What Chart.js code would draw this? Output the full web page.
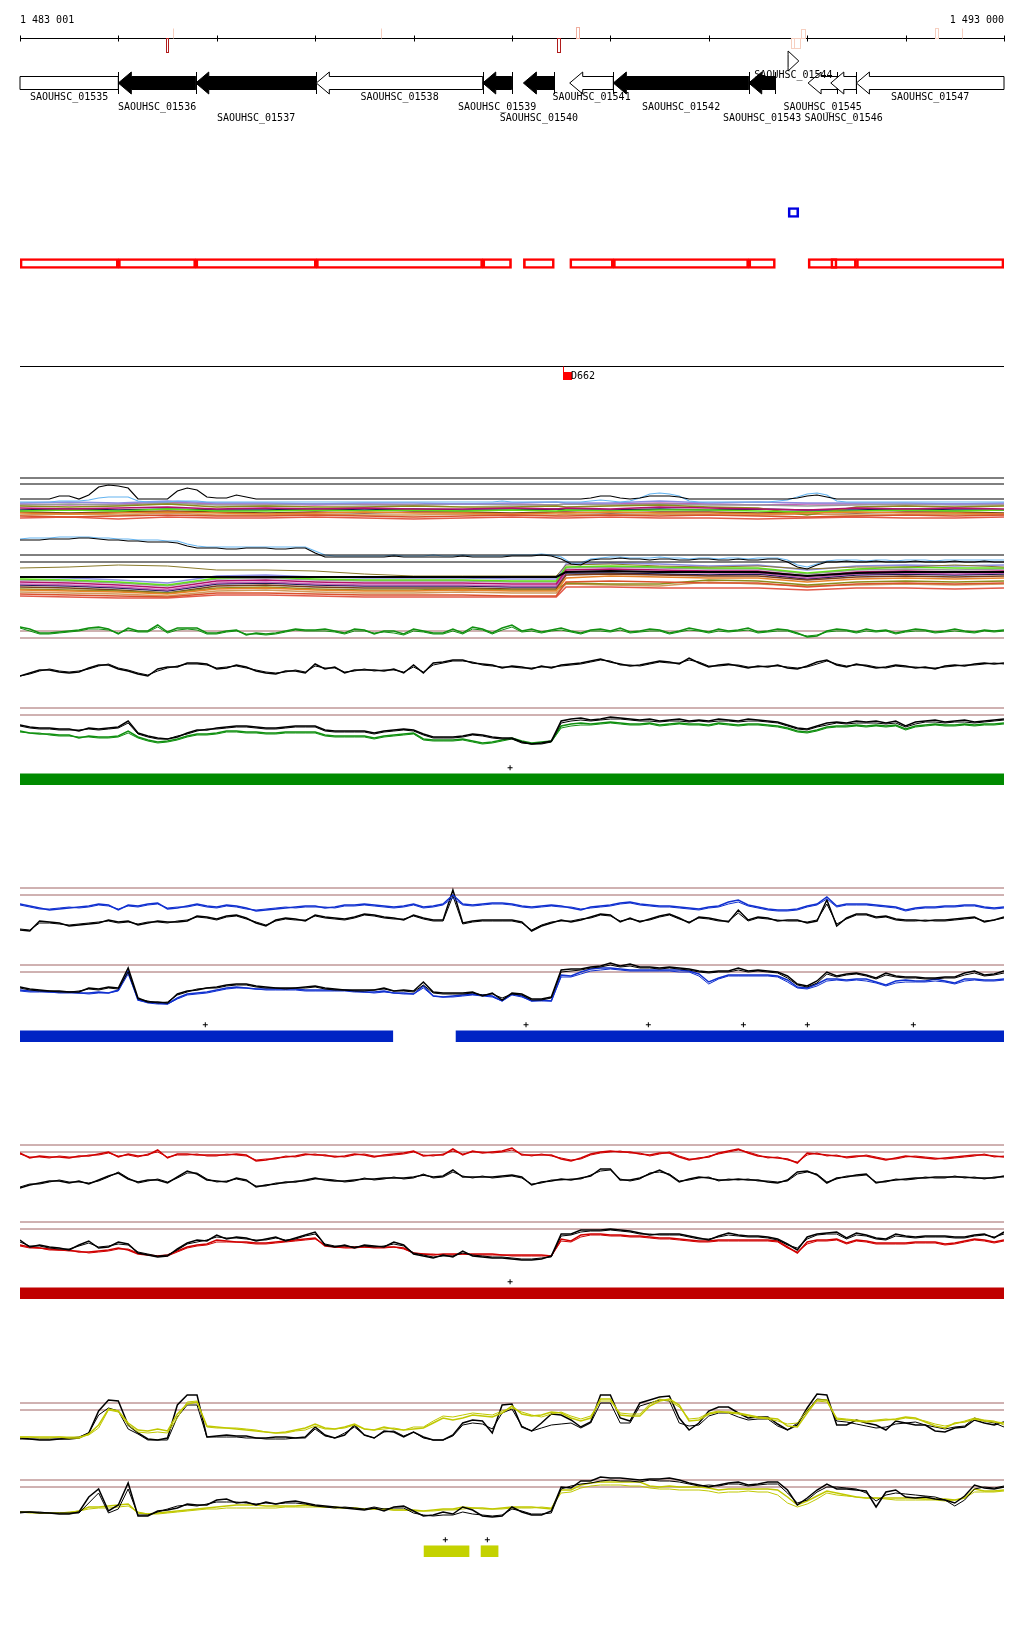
<!DOCTYPE html>
<html lang="en">
<head>
  <meta charset="UTF-8" />
  <title>SAOUHSC_01535 - SAOUHSC_01547 region</title>
  <script src="https://cdn.jsdelivr.net/npm/chart.js@4.4.0/dist/chart.umd.min.js"></script>
  <style>
    body {
      margin: 0;
      background: #fff;
      width: 1024px;
      height: 1640px;
      position: relative;
      overflow: hidden;
    }
    .track {
      position: absolute;
      left: 0;
      width: 1024px;
    }
  </style>
</head>
<body>
  <script>
    // view window (bp)
    const viewStart = 1483001, viewEnd = 1493000;
    const rulerTicks = [1483001, 1484000, 1485000, 1486000, 1487000, 1488000, 1489000, 1490000, 1491000, 1492000, 1493000];
    const rulerLabels = ['1 483 001', '1 493 000'];

    // genes
    const geneNames = ['SAOUHSC_01535','SAOUHSC_01536','SAOUHSC_01537','SAOUHSC_01538','SAOUHSC_01539','SAOUHSC_01540','SAOUHSC_01541','SAOUHSC_01542','SAOUHSC_01543','SAOUHSC_01544','SAOUHSC_01545','SAOUHSC_01546','SAOUHSC_01547'];
    const geneStart = [1483001,1484000,1484787,1486012,1487703,1488116,1488587,1489030,1490406,1490806,1491009,1491240,1491500];
    const geneEnd   = [1484000,1484787,1486012,1487703,1487996,1488431,1489030,1490406,1490677,1490915,1491304,1491500,1493000];
    const geneStrand = [0,-1,-1,-1,-1,-1,-1,-1,-1,1,-1,-1,-1];
    const geneEssential = [0,1,1,0,1,1,0,1,1,0,0,0,0];
    const geneRow = [0,0,0,0,0,0,0,0,0,1,0,0,0];
    const geneLabelRow = [0,1,2,0,1,2,0,1,2,0,1,2,0];

    // small variant marks on the ruler
    const markStart = [1484482,1484553,1486667,1488461,1488654,1490839,1490864,1490941,1492303,1492571];
    const markEnd   = [1484508,1484553,1486667,1488485,1488678,1490866,1490925,1490975,1492327,1492571];
    const markUp    = [false,true,true,false,true,false,false,true,true,true];
    const markScore = [1.4,1.0,1.0,1.4,1.1,1.0,1.0,0.9,1.0,1.0];

    // sites
    const siteNames = ['D662'];
    const sitePos = [1488523];

    // 100 bp bins
    const bins = [
      1483000,1483100,1483200,1483300,1483400,1483500,1483600,1483700,1483800,1483900,
      1484000,1484100,1484200,1484300,1484400,1484500,1484600,1484700,1484800,1484900,
      1485000,1485100,1485200,1485300,1485400,1485500,1485600,1485700,1485800,1485900,
      1486000,1486100,1486200,1486300,1486400,1486500,1486600,1486700,1486800,1486900,
      1487000,1487100,1487200,1487300,1487400,1487500,1487600,1487700,1487800,1487900,
      1488000,1488100,1488200,1488300,1488400,1488500,1488600,1488700,1488800,1488900,
      1489000,1489100,1489200,1489300,1489400,1489500,1489600,1489700,1489800,1489900,
      1490000,1490100,1490200,1490300,1490400,1490500,1490600,1490700,1490800,1490900,
      1491000,1491100,1491200,1491300,1491400,1491500,1491600,1491700,1491800,1491900,
      1492000,1492100,1492200,1492300,1492400,1492500,1492600,1492700,1492800,1492900,
      1493000];
    const coarsePos = [1483000,1483500,1484000,1484500,1485000,1485500,1486000,1486500,1487000,1487500,1488000,1488450,1488550,1489000,1489500,1490000,1490500,1491000,1491500,1492000,1492500,1493000];

    // multi-sample profile
    const profileColors = ['#d9512c','#e8832a','#b3106b','#5fe01a','#8c8c1c','#8d8de0','#9a9a9a','#c45fb8','#7a3c1c','#1c1c55','#d09a5c','#e25a4a'];
    const profileRefUpper = [47, 41];
    const profileRefLower = [45, 38];
    const profileUpper = [
      [9,8,9,10,9,9,10,9,8,9,10,9,9,10,9,10,9,8,9,10,9,10],
      [12,11,12,13,12,11,12,13,12,12,11,12,12,13,12,12,11,12,13,12,12,11],
      [17,16,17,18,16,17,16,17,16,16,17,16,17,16,18,17,16,15,17,16,17,16],
      [14,15,14,16,14,14,15,14,15,14,15,14,15,14,15,15,14,13,14,15,14,15],
      [19,18,19,21,18,19,18,18,19,18,18,19,18,19,20,18,17,10,18,19,18,19],
      [22,23,22,24,22,22,21,22,22,21,22,23,22,22,24,22,23,22,22,22,21,22],
      [20,21,20,22,20,20,21,20,20,21,20,20,21,20,21,20,20,19,20,21,20,20],
      [21,20,21,23,21,21,20,21,20,21,21,20,21,21,22,21,20,21,21,20,21,21],
      [13,12,13,14,13,12,13,12,13,13,12,13,13,12,13,13,12,13,12,13,13,12],
      [15,16,15,16,15,15,16,15,16,15,15,16,15,15,16,15,16,15,15,16,15,15],
      [10,11,10,12,10,10,11,10,10,11,10,10,11,10,11,10,10,11,10,10,11,10],
      [7,8,6,8,7,7,8,7,6,7,8,7,7,8,7,7,6,7,8,7,7,8]
    ];
    const profileLower = [
      [6,5,4,3,7,7,6,5,5,5,4,4,18,19,18,17,17,13,16,17,16,17],
      [10,9,8,6,11,12,10,9,9,10,9,9,22,24,23,22,22,18,21,22,21,22],
      [18,17,15,12,19,20,18,17,17,17,16,16,30,31,30,29,29,24,28,29,28,29],
      [21,20,18,15,22,23,21,20,20,20,19,19,33,34,33,32,32,27,31,33,32,32],
      [11,10,9,7,12,13,11,10,10,11,10,10,17,16,16,20,19,15,18,19,18,19],
      [23,22,20,17,24,25,23,22,22,22,21,21,36,37,36,34,35,30,34,35,34,35],
      [20,19,17,14,21,22,20,19,19,19,18,18,32,33,32,31,31,26,30,31,30,31],
      [16,15,13,10,17,18,16,15,15,15,14,14,28,29,28,27,27,22,26,27,26,27],
      [13,12,10,7,14,15,13,12,12,12,11,11,25,26,25,24,24,20,23,24,23,24],
      [15,14,12,9,16,17,15,14,14,14,13,13,27,27,26,25,26,21,25,26,25,26],
      [8,7,6,4,9,10,8,7,7,8,7,7,16,15,14,18,16,14,15,16,15,16],
      [4,3,2,2,5,5,4,3,3,3,3,3,13,13,12,12,12,10,12,12,11,12]
    ];
    const profileLowerBlack = [23,23,23,23,23,23,23,23,23,23,23,23,28,29,28,28,28,24,27,28,28,28];
    const profileLowerOlive = [32,33,35,34,30,30,29,26,24,24,24,24,35,36,34,33,34,31,33,33,35,33];
    const profileUpperMean = [
      26,26,26,26,29,29,26,30,38,40, 39,37,26,26,26,26,34,37,35,28, 27,27,30,28,26,26,26,26,26,26,
      26,26,26,26,26,26,26,26,26,26, 26,26,26,26,26,26,26,26,26,26, 26,26,26,26,26,26,26,26,27,29,
      29,27,26,27,29,29,29,28,26,26, 26,26,26,26,26,26,26,26,26,27, 29,30,28,26,26,26,26,26,26,26,
      26,26,26,26,26,26,26,26,26,26, 26];
    const profileUpperRef = [
      23,23,23,23,24,24,24,25,27,28, 28,28,24,23,23,23,24,24,24,23, 23,23,23,23,23,23,23,23,23,23,
      23,23,23,23,23,23,23,23,23,23, 23,23,23,23,23,23,23,23,23,24, 23,23,23,23,23,23,23,23,24,25,
      24,23,24,27,31,32,31,29,24,23, 23,23,23,23,23,23,23,24,25,28, 31,32,30,24,23,23,23,23,23,23,
      23,23,23,23,23,23,23,23,23,23, 23];
    const profileLowerMean = [
      60,60,60,61,61,61,62,62,61,60, 60,59,59,58,58,58,57,54,52,52, 52,51,51,52,52,52,51,51,52,52,
      47,43,43,43,43,43,43,43,44,43, 43,43,43,43,43,44,43,43,43,43, 44,44,44,45,44,41,36,35,40,41,
      41,42,41,41,40,41,41,40,40,41, 41,40,40,41,40,40,41,41,38,33, 31,35,38,38,39,38,38,39,38,38,
      38,39,38,38,38,39,38,38,39,38, 38];
    const profileLowerRef = [
      61,62,62,62,63,63,63,63,62,62, 61,61,60,60,60,59,59,56,54,53, 53,53,53,53,53,53,53,53,53,53,
      49,45,44,44,44,44,44,44,45,44, 44,44,45,44,44,45,44,44,44,44, 45,45,45,46,45,43,37,37,41,42,
      43,43,42,42,42,43,42,42,41,42, 42,41,42,42,41,42,42,42,40,35, 33,36,39,40,40,40,39,40,40,39,
      40,40,40,39,40,40,40,40,40,40, 40];

    // thresholds for the condition tracks
    const upperThresholds = [60, 53];
    const lowerThresholds = [53, 46];

    // condition 1 (green)
    const greenUpColA = [64,62,58,58,59,60,61,63,64,62, 57,63,60,60,66,59,63,63,63,58, 58,60,61,56,58,57,58,60,62,61, 61,62,60,58,62,61,57,60,60,57, 62,60,58,58,62,58,64,62,58,63, 66,60,62,59,61,63,60,58,61,62, 60,63,59,60,62,61,58,60,63,61, 59,62,60,61,63,59,60,62,61,58, 54,55,60,62,61,59,62,60,61,58, 60,62,61,59,60,62,60,59,61,60, 61];
    const greenUpColB = [63,60,57,57,58,59,60,62,62,61, 58,61,59,59,64,58,61,62,61,57, 57,59,60,57,57,56,57,59,61,60, 60,60,59,57,60,60,58,59,58,56, 60,59,57,57,60,57,62,61,57,61, 64,59,60,58,60,61,59,57,60,60, 59,61,58,59,60,60,57,59,61,60, 58,60,59,60,61,58,59,60,60,57, 55,56,59,60,60,58,60,59,60,57, 59,60,60,58,59,60,59,58,60,59, 60];
    const greenUpBlkA = [15,18,21,21,19,18,19,23,26,26, 22,20,17,15,22,24,24,28,28,27, 22,23,26,24,20,18,17,20,20,18, 27,22,24,18,21,21,21,20,22,18, 26,18,28,29,31,31,28,27,26,23, 25,24,22,25,23,26,27,28,30,32, 29,27,25,26,28,30,29,27,33,28, 24,26,27,25,23,25,24,26,23,22, 25,29,31,26,24,27,25,23,24,26, 25,23,24,22,25,26,25,27,28,27, 28];
    const greenUpBlkB = [15,17,20,22,20,19,20,22,25,27, 23,21,18,16,20,23,25,27,27,26, 23,24,25,23,21,19,18,19,21,19, 25,23,23,19,20,22,20,21,21,19, 24,19,26,28,30,30,29,26,25,24, 24,23,23,24,24,25,26,27,29,31, 30,26,26,25,27,29,28,28,31,29, 25,25,26,26,24,24,25,25,24,23, 24,27,30,27,25,26,26,24,23,25, 24,24,23,23,24,25,26,26,27,28, 27];
    const greenLowBlkA = [36,34,33,33,32,32,30,33,32,33, 34,40,28,25,23,22,24,28,31,31, 33,34,35,35,34,33,33,34,35,35, 35,31,30,30,30,30,28,30,31,32, 31,27,24,24,24,25,27,26,24,23, 23,19,17,18,20,40,42,43,41,42, 44,43,42,41,42,40,41,42,40,41, 40,42,41,40,42,41,40,39,36,33, 32,35,38,39,38,40,39,40,38,40, 35,39,40,41,39,40,41,39,40,41, 42];
    const greenLowBlkB = [35,33,32,32,31,31,31,32,31,32, 33,38,27,24,22,22,25,27,30,32, 32,33,34,34,33,32,32,33,34,34, 34,30,29,29,29,29,27,29,30,31, 30,26,23,23,23,24,26,25,23,22, 22,18,17,17,19,38,40,41,40,41, 42,42,41,40,40,39,40,40,39,40, 39,40,40,39,40,40,39,38,35,32, 31,34,36,38,37,38,38,38,37,38, 34,37,39,39,38,39,39,38,39,40, 41];
    const greenLowColA = [30,28,27,27,26,26,23,25,24,24, 25,30,24,21,19,20,22,25,27,27, 28,30,30,29,29,28,28,29,29,29, 29,26,25,25,25,25,23,25,26,27, 28,22,21,21,21,22,20,18,19,21, 23,20,18,19,20,35,37,38,37,38, 39,38,37,37,38,36,37,38,37,37, 36,38,37,36,37,37,36,35,33,30, 29,31,34,35,35,36,35,36,35,36, 32,35,36,37,36,36,37,36,37,37, 38];
    const greenLowColB = [29,28,28,26,25,25,24,24,23,23, 24,28,23,20,18,19,21,24,26,26, 27,29,29,28,28,27,27,28,28,28, 28,25,24,24,24,24,22,24,25,26, 27,21,20,20,20,21,19,17,18,20, 22,19,17,18,19,33,35,36,36,37, 38,37,36,36,37,35,36,37,36,36, 35,37,36,35,36,36,35,34,32,29, 28,30,33,34,34,35,34,35,34,35, 31,34,35,36,35,35,36,35,36,36, 37];
    const greenSegs = [[1483001, 1493000]];
    const greenPlus = [1487981];

    // condition 2 (blue)
    const blueUpColA = [44,42,40,38,39,40,41,42,44,43, 38,43,42,44,45,39,40,42,44,42, 41,43,42,40,37,38,39,40,41,42, 42,40,41,43,43,44,43,42,41,42, 44,41,42,44,53,44,43,44,45,45, 44,42,41,42,43,42,40,38,41,42, 43,45,46,44,43,42,42,41,40,39, 41,42,46,48,43,41,39,38,38,39, 42,44,51,42,44,44,44,43,42,41, 38,40,41,41,42,42,43,43,41,40, 41];
    const blueUpColB = [43,41,39,39,40,41,40,41,43,42, 39,42,41,43,44,40,41,41,43,41, 40,42,41,39,38,39,40,41,40,41, 41,41,40,42,42,43,42,41,40,41, 43,40,41,43,50,43,42,43,44,44, 43,41,40,41,42,41,41,39,40,41, 42,44,45,43,42,41,41,40,39,38, 40,41,44,46,42,40,38,37,37,38, 41,43,49,41,43,43,43,42,41,40, 37,39,40,40,41,41,42,42,40,39, 40];
    const blueUpBlkA = [18,17,27,26,25,22,23,24,25,28, 26,27,23,25,27,26,26,27,32,31, 29,32,33,30,25,22,28,30,29,27, 33,31,30,29,31,34,33,31,30,28, 33,30,28,28,58,25,27,28,28,28, 28,26,17,22,25,28,26,28,31,34, 33,26,30,26,29,32,34,30,25,31, 30,28,26,38,28,31,30,27,28,28, 25,27,48,22,30,34,34,31,32,29, 28,28,27,28,28,29,30,31,26,28, 31];
    const blueUpBlkB = [19,18,25,25,24,23,24,25,26,27, 25,26,24,26,26,25,27,28,31,30, 28,31,32,29,26,23,27,29,28,28, 32,30,29,28,30,33,32,30,29,29, 32,29,27,27,52,24,26,27,27,27, 27,25,18,23,26,27,27,29,30,33, 32,27,29,27,28,31,33,29,26,30, 29,27,27,35,27,30,29,28,27,27, 26,28,44,24,29,33,33,30,31,28, 27,27,28,27,27,28,29,30,27,28, 30];
    const blueLowBlkA = [31,29,28,27,27,26,26,30,29,31, 30,50,20,16,16,15,24,27,28,30, 31,33,34,34,32,31,30,30,30,31, 32,30,29,28,28,28,28,30,27,28, 27,36,26,25,25,25,26,22,25,18, 25,24,19,19,21,48,49,49,51,52, 55,52,54,51,51,50,51,50,49,47, 46,47,47,50,47,48,47,46,42,34, 32,37,46,42,44,45,43,40,45,42, 41,41,40,40,41,41,45,47,43,44, 47];
    const blueLowBlkB = [30,28,27,27,26,26,27,29,28,30, 29,46,19,17,15,16,23,26,29,30, 30,32,33,33,31,30,30,29,30,30, 31,29,28,28,27,27,28,29,27,27, 26,33,25,24,24,24,25,23,24,20, 24,23,18,18,20,46,47,48,50,51, 53,51,52,50,50,49,50,49,48,46, 45,46,46,48,46,47,46,45,40,33, 31,35,44,41,43,44,42,39,43,41, 40,40,39,39,40,40,43,45,42,43, 45];
    const blueLowColA = [28,27,27,26,26,26,25,25,26,25, 28,47,18,16,15,14,20,24,25,26, 28,30,31,30,29,29,29,29,29,28, 28,28,28,28,27,26,26,27,25,25, 24,32,22,21,22,23,24,23,22,17, 24,22,17,18,17,43,42,46,49,50, 50,49,48,48,48,48,48,48,47,44, 36,40,43,43,43,43,43,42,38,31, 30,34,39,39,38,39,39,36,33,37, 38,37,37,39,37,35,39,39,38,38, 39];
    const blueLowColB = [27,26,26,26,25,25,25,24,25,25, 27,44,18,15,14,14,19,23,24,25, 27,29,30,30,29,28,28,28,28,27, 27,27,27,27,26,26,25,26,25,24, 24,30,22,21,21,22,23,22,21,17, 23,21,17,17,17,41,41,44,47,48, 49,48,47,47,47,47,47,46,46,42, 34,39,42,42,42,42,42,41,36,30, 29,32,37,38,37,38,37,35,32,35, 36,36,36,37,36,34,37,38,37,37, 38];
    const blueSegs = [[1483001, 1486789], [1487432, 1493000]];
    const bluePlus = [1484884, 1488143, 1489386, 1490352, 1491002, 1492079];

    // condition 3 (red)
    const redUpColA = [52,47,49,48,48,47,49,49,51,53, 48,51,49,50,55,47,51,51,50,50, 50,50,51,50,44,45,47,48,49,51, 50,50,48,49,51,50,48,50,51,52, 54,49,50,50,56,50,54,52,53,54, 57,50,50,50,50,46,44,47,51,53, 54,53,53,51,50,52,52,48,45,47, 48,52,54,56,52,49,48,47,46,42, 52,51,50,49,48,49,49,47,45,47, 49,48,47,46,47,48,49,50,50,49, 48];
    const redUpColB = [51,48,48,47,49,48,48,50,50,52, 49,50,48,51,53,48,50,50,51,49, 49,51,50,49,45,46,46,49,48,50, 51,49,49,48,50,51,49,49,50,51, 53,50,49,51,54,51,53,53,52,53, 55,51,49,51,49,47,45,46,50,52, 53,54,52,52,49,51,53,49,46,46, 49,51,53,55,53,50,47,48,45,43, 50,52,49,50,47,48,50,48,46,46, 48,49,48,47,46,47,48,49,51,48, 49];
    const redUpBlkA = [17,20,22,24,24,22,24,21,25,29, 32,26,23,25,25,22,28,34,31,25, 24,23,27,25,18,20,21,23,23,25, 27,25,24,24,25,26,26,27,27,27, 28,30,28,29,35,28,28,28,28,29, 30,28,20,23,24,26,25,27,29,36, 36,25,25,27,31,35,30,23,26,28, 27,25,25,26,25,25,23,22,25,33, 34,30,22,27,28,30,31,22,24,25, 26,27,27,28,28,28,28,27,27,27, 29];
    const redUpBlkB = [18,21,21,23,25,23,23,22,24,28, 33,27,22,24,26,23,27,32,32,26, 23,24,26,24,19,19,22,22,24,24, 26,26,25,23,24,27,25,26,28,26, 27,31,27,28,33,29,27,29,27,28, 29,27,21,22,25,25,26,26,30,34, 35,26,24,26,32,33,31,24,25,27, 28,24,26,25,26,24,24,23,24,31, 33,31,23,26,29,29,30,23,23,26, 25,26,28,27,27,29,27,28,26,28, 28];
    const redLowBlkA = [35,28,30,28,27,25,30,34,27,28, 33,31,22,20,18,19,26,32,35,34, 40,36,38,37,34,36,38,34,37,40, 43,30,28,30,27,30,29,28,33,30, 21,19,17,20,18,24,19,18,17,17, 16,15,15,16,19,41,41,45,45,45, 46,45,44,42,40,41,41,41,39,37, 35,39,42,40,39,39,38,36,31,25, 38,41,42,43,37,42,40,37,36,41, 39,38,39,39,39,38,38,40,41,37, 43];
    const redLowBlkB = [33,29,29,27,26,26,29,32,28,29, 31,30,23,21,19,20,25,31,33,35, 38,37,37,36,35,35,37,35,36,39, 41,31,29,29,28,29,28,29,31,29, 22,20,18,19,19,22,20,19,18,18, 17,16,16,17,18,39,40,43,44,44, 45,44,43,41,41,40,40,40,38,36, 36,38,40,39,38,38,37,35,30,27, 36,40,41,41,36,40,39,36,35,39, 38,37,38,38,38,37,37,39,40,38, 41];
    const redLowColA = [30,28,27,26,25,25,23,23,24,25, 27,25,21,20,19,20,24,28,30,31, 35,34,33,33,32,32,33,34,35,36, 37,29,28,28,28,28,28,28,28,27, 22,21,20,21,21,21,21,21,21,20, 20,20,20,20,19,36,34,40,41,41, 40,40,39,39,38,37,37,36,35,34, 34,35,35,35,35,35,35,34,28,22, 33,35,35,36,32,35,34,32,32,32, 32,33,33,33,31,32,34,36,35,33, 35];
    const redLowColB = [29,27,27,25,25,24,24,22,23,24, 26,26,22,20,19,19,23,27,29,30, 33,33,33,32,31,31,32,33,34,35, 36,30,28,27,27,28,27,27,28,26, 22,21,21,20,20,21,20,20,20,20, 19,19,19,19,19,34,33,38,40,40, 39,39,38,38,37,36,36,35,34,33, 33,34,34,34,34,34,34,33,27,23, 31,34,34,35,31,34,33,31,31,31, 31,32,32,32,30,31,33,35,34,32, 34];
    const redSegs = [[1483001, 1493000]];
    const redPlus = [1487981];

    // condition 4 (yellow)
    const yellowUpBlkA = [25,24,23,23,24,24,25,30,52,63, 62,38,30,24,23,25,58,68,68,26, 27,28,27,27,25,25,26,26,25,26, 36,28,25,28,38,28,25,32,31,26, 31,26,23,23,28,40,43,42,30,58, 59,36,32,40,49,48,43,36,41,68, 68,45,42,60,63,66,67,45,33,40, 52,56,56,50,45,46,46,39,33,38, 55,69,68,38,38,43,40,38,33,42, 40,38,38,32,31,35,36,43,40,38, 41];
    const yellowUpBlkB = [24,24,24,24,24,25,26,30,48,55, 52,34,29,23,23,23,46,58,58,26, 26,26,26,25,25,24,24,24,25,25, 34,27,25,30,36,28,25,31,32,27, 31,25,23,23,27,38,40,39,34,50, 54,37,32,35,38,39,40,35,40,60, 60,40,40,57,60,63,62,40,37,38, 47,50,50,46,43,44,44,37,33,40, 52,64,63,42,41,39,37,35,36,39, 40,41,38,36,34,36,37,45,42,40, 36];
    const yellowUpColA = [26,26,26,26,26,25,25,29,38,54, 52,40,33,32,34,32,49,59,61,37, 36,35,34,33,32,31,30,31,33,35, 39,35,34,36,39,34,33,36,34,33, 34,35,40,45,43,45,48,47,46,50, 57,49,47,48,51,50,45,42,45,64, 64,48,47,47,57,62,64,58,42,43, 49,51,51,50,48,46,45,44,37,36, 50,63,63,44,43,42,41,42,43,44, 46,45,41,37,35,40,41,44,42,41, 40];
    const yellowUpColB = [26,26,25,25,26,26,26,28,35,53, 51,38,31,30,31,30,45,61,62,36, 35,35,35,34,33,31,30,30,32,33, 37,34,34,35,38,34,33,34,35,33, 36,36,42,47,46,48,50,49,48,52, 55,51,48,46,49,51,47,44,47,62, 62,50,49,49,59,64,62,56,44,45, 50,52,50,49,47,45,44,42,39,40, 53,62,61,45,44,43,42,43,44,43, 45,44,42,39,37,39,42,45,43,42, 38];
    const yellowLowBlkA = [21,21,20,20,19,19,21,36,44,22, 28,50,17,17,22,23,25,29,28,28, 33,34,30,31,28,31,29,31,32,30, 28,27,26,25,24,23,25,22,26,27, 22,17,18,21,19,26,23,17,16,17, 26,21,18,18,22,46,45,52,52,56, 55,55,54,53,54,54,55,53,50,48, 46,48,50,51,48,49,51,51,43,28, 35,43,49,44,44,43,42,26,41,43, 36,35,36,34,33,30,37,48,45,44, 46];
    const yellowLowBlkB = [20,21,21,20,20,20,20,30,40,20, 24,44,18,18,21,24,27,28,27,29, 31,31,31,30,29,30,29,30,30,29, 27,26,25,26,25,24,26,24,25,25, 20,18,17,18,18,21,19,18,17,18, 24,22,19,19,20,44,47,49,50,52, 53,52,52,51,53,52,52,51,49,47, 48,47,49,49,47,48,49,49,40,30, 33,41,46,46,45,44,40,32,38,40, 39,38,37,36,33,27,33,44,46,45, 47];
    const yellowLowColA = [21,21,20,20,20,20,22,26,26,27, 28,29,20,19,20,21,22,23,24,25, 26,27,28,28,28,27,27,27,27,28, 27,26,26,25,25,24,24,24,23,23, 23,22,23,24,24,26,25,25,24,25, 26,26,26,25,24,43,43,48,50,51, 51,51,51,51,47,46,47,46,46,46, 45,43,44,44,44,44,44,43,36,28, 32,37,42,40,38,36,35,35,35,35, 35,35,34,34,34,33,35,44,42,42, 43];
    const yellowLowColB = [21,20,20,20,20,21,22,24,25,25, 26,27,21,19,19,20,21,22,23,24, 24,25,25,25,25,25,25,26,26,26, 26,26,25,25,25,24,24,24,23,23, 22,22,22,23,23,24,25,24,24,24, 25,25,25,26,25,40,41,45,47,48, 48,48,47,47,45,44,44,43,43,43, 42,40,41,41,42,41,41,38,30,26, 29,34,40,38,37,36,35,35,34,33, 33,33,33,33,32,33,35,41,41,41, 42];
    const yellowSegs = [[1487107, 1487564], [1487686, 1487859]];
    const yellowPlus = [1487323, 1487750];

    // ---------- helpers ----------
    function pts(pos, vals) {
      return pos.map((p, i) => ({ x: p, y: vals[i] }));
    }

    function lineSet(pos, vals, color, width) {
      return {
        type: 'line',
        data: pts(pos, vals),
        borderColor: color,
        borderWidth: width || 1,
        pointRadius: 0,
        tension: 0,
        fill: false
      };
    }

    function thresholdSet(v, color) {
      return lineSet([viewStart, viewEnd], [v, v], color, 1);
    }

    function baseOptions(yScale) {
      return {
        responsive: true,
        maintainAspectRatio: false,
        animation: false,
        events: [],
        layout: { autoPadding: false, padding: { left: 20, right: 20, top: 0, bottom: 0 } },
        plugins: { legend: { display: false }, tooltip: { enabled: false } },
        scales: {
          x: { type: 'linear', min: viewStart, max: viewEnd, offset: false, display: false },
          y: Object.assign({ display: false }, yScale)
        }
      };
    }

    function makeChart(top, height, config) {
      const box = document.createElement('div');
      box.className = 'track';
      box.style.top = top + 'px';
      box.style.height = height + 'px';
      const cv = document.createElement('canvas');
      box.appendChild(cv);
      document.body.appendChild(box);
      return new Chart(cv.getContext('2d'), config);
    }

    // ---------- ruler + genes ----------
    const genePlugin = {
      id: 'genes',
      afterDraw(chart) {
        const ctx = chart.ctx, xs = chart.scales.x, area = chart.chartArea;
        const px = v => xs.getPixelForValue(v);
        ctx.save();
        ctx.font = '10px "DejaVu Sans Mono", monospace';
        ctx.lineWidth = 1;
        ctx.strokeStyle = '#000';
        ctx.fillStyle = '#000';

        // ruler
        const ry = 38.5;
        ctx.beginPath();
        ctx.moveTo(px(viewStart), ry);
        ctx.lineTo(px(viewEnd), ry);
        ctx.stroke();
        rulerTicks.forEach(t => {
          const x = Math.round(px(t)) + 0.5;
          ctx.beginPath();
          ctx.moveTo(x, ry - 3);
          ctx.lineTo(x, ry + 3);
          ctx.stroke();
        });
        ctx.textBaseline = 'middle';
        ctx.textAlign = 'left';
        ctx.fillText(rulerLabels[0], area.left, 20);
        ctx.textAlign = 'right';
        ctx.fillText(rulerLabels[1], area.right, 20);

        // variant marks
        markStart.forEach((s, i) => {
          const x1 = Math.round(px(s)) + 0.5;
          const x2 = Math.max(Math.round(px(markEnd[i])) + 0.5, x1);
          const len = Math.round(markScore[i] * 10);
          ctx.strokeStyle = markScore[i] > 1.2 ? '#b01c1c' : (markScore[i] > 1.05 ? '#f0b0a0' : '#f6cfc0');
          const y1 = markUp[i] ? ry - len : ry;
          if (x2 - x1 < 1) {
            ctx.beginPath();
            ctx.moveTo(x1, y1);
            ctx.lineTo(x1, y1 + len);
            ctx.stroke();
          } else {
            ctx.strokeRect(x1, y1, x2 - x1, len);
          }
        });

        // genes
        const hb = 6.5, hh = 11, head = 13;
        const rowY = [83, 61];
        const labelY = [[97.5, 107, 118.5], [75.5]];
        geneNames.forEach((name, i) => {
          const x1 = px(geneStart[i]), x2 = px(geneEnd[i]);
          const cy = rowY[geneRow[i]];
          const h = Math.min(head, x2 - x1);
          const hH = geneRow[i] ? 10 : hh;
          ctx.beginPath();
          if (geneStrand[i] < 0) {
            ctx.moveTo(x1, cy);
            ctx.lineTo(x1 + h, cy - hH);
            ctx.lineTo(x1 + h, cy - hb);
            ctx.lineTo(x2, cy - hb);
            ctx.lineTo(x2, cy + hb);
            ctx.lineTo(x1 + h, cy + hb);
            ctx.lineTo(x1 + h, cy + hH);
          } else if (geneStrand[i] > 0) {
            ctx.moveTo(x2, cy);
            ctx.lineTo(x2 - h, cy - hH);
            ctx.lineTo(x2 - h, cy - hb);
            ctx.lineTo(x1, cy - hb);
            ctx.lineTo(x1, cy + hb);
            ctx.lineTo(x2 - h, cy + hb);
            ctx.lineTo(x2 - h, cy + hH);
          } else {
            ctx.rect(x1, cy - hb, x2 - x1, hb * 2);
          }
          ctx.closePath();
          ctx.fillStyle = geneEssential[i] ? '#000' : '#fff';
          ctx.fill();
          ctx.strokeStyle = '#000';
          ctx.stroke();
          if (geneRow[i] === 0 && x2 < area.right - 1) {
            const xe = Math.round(x2) + 0.5;
            ctx.beginPath();
            ctx.moveTo(xe, cy - hh);
            ctx.lineTo(xe, cy + hh);
            ctx.stroke();
          }
        });
        ctx.fillStyle = '#000';
        ctx.textAlign = 'center';
        geneNames.forEach((name, i) => {
          const x1 = Math.max(px(geneStart[i]), area.left);
          const x2 = Math.min(px(geneEnd[i]), area.right);
          ctx.fillText(name, (x1 + x2) / 2, labelY[geneRow[i]][geneLabelRow[i]]);
        });
        ctx.restore();
      }
    };

    makeChart(0, 130, {
      type: 'line',
      data: { datasets: [] },
      options: baseOptions({ type: 'linear', min: 0, max: 1 }),
      plugins: [genePlugin]
    });

    // ---------- gene boxes ----------
    const boxOpts = baseOptions({ type: 'category', offset: true });
    boxOpts.indexAxis = 'y';
    makeChart(187, 102, {
      type: 'bar',
      data: {
        labels: ['alt', 'main'],
        datasets: [{
          data: geneNames.map((n, i) => ({ y: geneRow[i] ? 'alt' : 'main', x: [geneStart[i], geneEnd[i]] })),
          backgroundColor: 'rgba(0,0,0,0)',
          borderColor: geneNames.map((n, i) => geneRow[i] ? '#0000e0' : '#ff0000'),
          borderWidth: 2,
          borderSkipped: false,
          barThickness: 10,
          grouped: false
        }]
      },
      options: boxOpts
    });

    // ---------- sites ----------
    const sitePlugin = {
      id: 'sites',
      afterDraw(chart) {
        const ctx = chart.ctx, xs = chart.scales.x, area = chart.chartArea;
        const y0 = area.top + 10.5;
        ctx.save();
        ctx.strokeStyle = '#000';
        ctx.lineWidth = 1;
        ctx.beginPath();
        ctx.moveTo(area.left, y0);
        ctx.lineTo(area.right, y0);
        ctx.stroke();
        ctx.font = '10px "DejaVu Sans Mono", monospace';
        ctx.textBaseline = 'middle';
        ctx.textAlign = 'left';
        siteNames.forEach((name, i) => {
          const x = Math.round(xs.getPixelForValue(sitePos[i]));
          ctx.strokeStyle = '#ff0000';
          ctx.beginPath();
          ctx.moveTo(x + 0.5, y0);
          ctx.lineTo(x + 0.5, y0 + 6);
          ctx.stroke();
          ctx.fillStyle = '#ff0000';
          ctx.fillRect(x, y0 + 5.5, 9, 8);
          ctx.fillStyle = '#000';
          ctx.fillText(name, x + 8, y0 + 9.5);
        });
        ctx.restore();
      }
    };
    makeChart(356, 30, {
      type: 'line',
      data: { datasets: [] },
      options: baseOptions({ type: 'linear', min: 0, max: 1 }),
      plugins: [sitePlugin]
    });

    // ---------- multi-sample profile ----------
    const upperProfileSets = [
      lineSet([viewStart, viewEnd], [profileRefUpper[0], profileRefUpper[0]], '#000', 1),
      lineSet([viewStart, viewEnd], [profileRefUpper[1], profileRefUpper[1]], '#000', 1),
      lineSet(bins, profileUpperMean, '#000', 1.2),
      lineSet(bins, profileUpperRef, '#64b4f0', 1.2)
    ].concat(profileUpper.map((row, k) => lineSet(coarsePos, row, profileColors[k], 1.6)));
    makeChart(465, 60, {
      type: 'line',
      data: { datasets: upperProfileSets },
      options: baseOptions({ type: 'linear', min: 0, max: 60 })
    });

    const lowerProfileSets = [
      lineSet([viewStart, viewEnd], [profileRefLower[0], profileRefLower[0]], '#000', 1),
      lineSet([viewStart, viewEnd], [profileRefLower[1], profileRefLower[1]], '#000', 1),
      lineSet(bins, profileLowerMean, '#000', 1.2),
      lineSet(bins, profileLowerRef, '#64b4f0', 1.2),
      lineSet(coarsePos, profileLowerBlack, '#000', 2),
      lineSet(coarsePos, profileLowerOlive, '#8a7a2a', 1)
    ].concat(profileLower.map((row, k) => lineSet(coarsePos, row, profileColors[k], 1.6)));
    makeChart(530, 70, {
      type: 'line',
      data: { datasets: lowerProfileSets },
      options: baseOptions({ type: 'linear', min: 0, max: 70 })
    });

    // ---------- condition panels ----------
    const refColor = '#a06464';

    function conditionPanel(top, color, barColor, up, low, segs, plus) {
      makeChart(top - 40, 100, {
        type: 'line',
        data: {
          datasets: [
            lineSet(bins, up[0], color, 1.5),
            lineSet(bins, up[1], color, 1),
            lineSet(bins, up[2], '#000', 1.5),
            lineSet(bins, up[3], '#000', 1),
            thresholdSet(upperThresholds[0], refColor),
            thresholdSet(upperThresholds[1], refColor)
          ]
        },
        options: baseOptions({ type: 'linear', min: 0, max: 100 })
      });
      makeChart(top + 60, 70, {
        type: 'line',
        data: {
          datasets: [
            lineSet(bins, low[0], '#000', 1.5),
            lineSet(bins, low[1], '#000', 1),
            lineSet(bins, low[2], color, 1.5),
            lineSet(bins, low[3], color, 1),
            thresholdSet(lowerThresholds[0], refColor),
            thresholdSet(lowerThresholds[1], refColor)
          ]
        },
        options: baseOptions({ type: 'linear', min: 0, max: 70 })
      });
      makeChart(top + 131, 23, {
        type: 'bar',
        data: {
          labels: ['plus', 'seg'],
          datasets: [
            {
              type: 'line',
              showLine: false,
              data: plus.map(p => ({ x: p, y: 'plus' })),
              pointStyle: 'cross',
              pointRadius: 2.5,
              borderColor: '#000',
              borderWidth: 1
            },
            {
              type: 'bar',
              indexAxis: 'y',
              data: segs.map(s => ({ y: 'seg', x: s })),
              backgroundColor: barColor,
              borderWidth: 0,
              barThickness: 11,
              grouped: false
            }
          ]
        },
        options: baseOptions({ type: 'category', offset: true })
      });
    }

    conditionPanel(631, '#109010', '#008a00',
      [greenUpColA, greenUpColB, greenUpBlkA, greenUpBlkB],
      [greenLowBlkA, greenLowBlkB, greenLowColA, greenLowColB],
      greenSegs, greenPlus);
    conditionPanel(888, '#1030d0', '#0024c4',
      [blueUpColA, blueUpColB, blueUpBlkA, blueUpBlkB],
      [blueLowBlkA, blueLowBlkB, blueLowColA, blueLowColB],
      blueSegs, bluePlus);
    conditionPanel(1145, '#d00000', '#c00000',
      [redUpColA, redUpColB, redUpBlkA, redUpBlkB],
      [redLowBlkA, redLowBlkB, redLowColA, redLowColB],
      redSegs, redPlus);
    conditionPanel(1403, '#c0c800', '#c4d200',
      [yellowUpColA, yellowUpColB, yellowUpBlkA, yellowUpBlkB],
      [yellowLowBlkA, yellowLowBlkB, yellowLowColA, yellowLowColB],
      yellowSegs, yellowPlus);
  </script>
</body>
</html>
